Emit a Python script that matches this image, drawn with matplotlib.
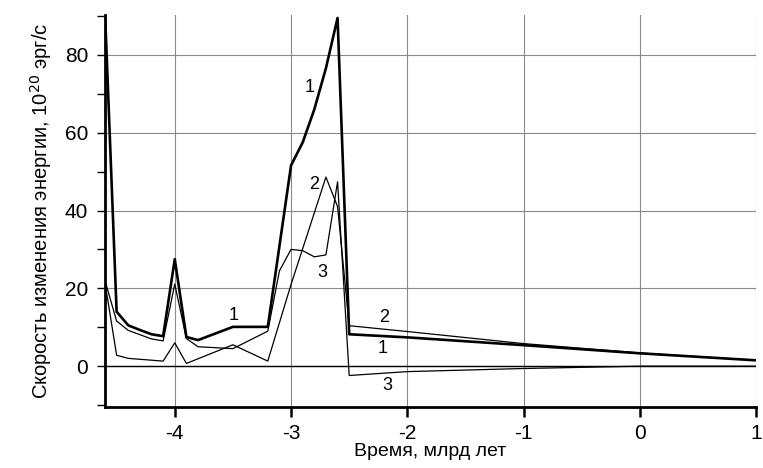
import numpy as np
import matplotlib
matplotlib.use('Agg')
import matplotlib.pyplot as plt
from matplotlib.ticker import MultipleLocator

plt.rcParams['font.family'] = ['Liberation Sans', 'DejaVu Sans']
plt.rcParams['axes.unicode_minus'] = False

# curve 1 (thick)
x1 = [-4.6, -4.5, -4.4, -4.3, -4.2, -4.1, -4.0, -3.9, -3.8, -3.5, -3.2, -3.0, -2.9, -2.8, -2.7, -2.6, -2.5,
      -2.0, -1.0, 0.0, 1.0]
y1 = [91, 14.0, 10.5, 9.3, 8.2, 7.7, 27.5, 7.5, 6.7, 10.1, 10.1, 51.6, 57.5, 66.0, 76.6, 89.5, 8.2,
      7.4, 5.4, 3.3, 1.5]

# curve 2 (thin, ends above curve 1)
x2 = [-4.6, -4.5, -4.4, -4.1, -4.0, -3.9, -3.5, -3.2, -3.0, -2.7, -2.6, -2.5, -2.0, -1.0, 0.0, 1.0]
y2 = [21.5, 2.8, 2.0, 1.3, 6.0, 0.7, 5.5, 1.3, 21.0, 48.6, 41.0, 10.4, 8.9, 5.8, 3.4, 1.5]

# curve 3 (thin, with plateau, ends below zero)
x3 = [-4.6, -4.5, -4.4, -4.2, -4.1, -4.0, -3.9, -3.8, -3.5, -3.2, -3.1, -3.0, -2.9, -2.8, -2.7, -2.6, -2.5,
      -2.0, -1.0, 0.0, 1.0]
y3 = [22.0, 11.6, 9.2, 7.0, 6.5, 21.1, 7.1, 5.0, 4.5, 9.0, 24.5, 30.0, 29.7, 28.1, 28.6, 47.4, -2.4,
      -1.4, -0.6, 0.0, 0.0]

# curve labels
labels = ['1', '2', '3', '1', '2', '1', '3']
lab_x = [-2.84, -2.80, -2.73, -3.49, -2.20, -2.21, -2.17]
lab_y = [71.6, 46.6, 24.2, 12.9, 12.4, 4.6, -4.9]

fig = plt.figure(figsize=(7.63, 4.68), dpi=100)
ax = fig.add_axes([0.1376, 0.1303, 0.8535, 0.838])

ax.plot(x3, y3, color='black', lw=0.9, zorder=3)
ax.plot(x2, y2, color='black', lw=0.9, zorder=3)
ax.plot(x1, y1, color='black', lw=1.9, zorder=4)
ax.axhline(0, color='black', lw=1.0, zorder=2)

for s, xx, yy in zip(labels, lab_x, lab_y):
    ax.text(xx, yy, s, fontsize=13, ha='center', va='center', zorder=5)

ax.set_xlim(-4.6, 1.0)
ax.set_ylim(-10.5, 90.3)

ax.xaxis.set_major_locator(MultipleLocator(1))
ax.yaxis.set_major_locator(MultipleLocator(20))
ax.yaxis.set_minor_locator(MultipleLocator(10))

ax.grid(True, which='major', color='#8a8a8a', lw=0.8)
ax.set_axisbelow(True)

for side in ['top', 'right']:
    ax.spines[side].set_visible(False)
for side in ['left', 'bottom']:
    ax.spines[side].set_linewidth(2.0)

ax.tick_params(axis='x', which='major', direction='out', length=7, width=1.8, labelsize=15, pad=5)
ax.tick_params(axis='y', which='both', direction='out', length=6, width=1.0, labelsize=15, pad=6)

ax.set_xlabel('Время, млрд лет', fontsize=14, labelpad=0)
ax.set_ylabel('Скорость изменения энергии, 10$^{20}$ эрг/с', fontsize=14.5, labelpad=8)

fig.savefig('out.png', dpi=100)
